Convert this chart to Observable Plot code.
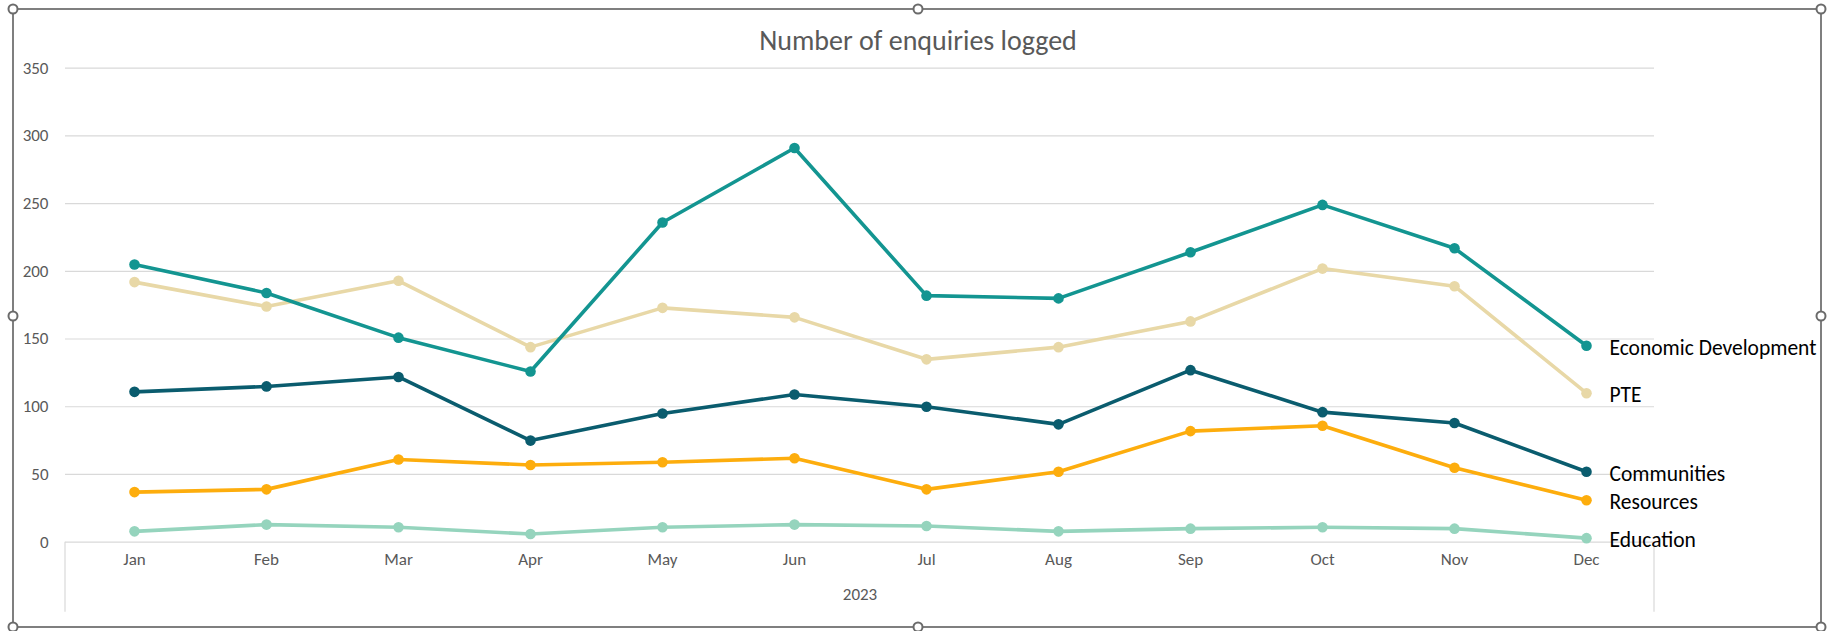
<!DOCTYPE html>
<html>
<head>
<meta charset="utf-8">
<script src="https://cdn.jsdelivr.net/npm/d3@7"></script>
<script src="https://cdn.jsdelivr.net/npm/@observablehq/plot@0.6"></script>
<style>
  body { margin: 0; background: #fff; }
  #wrap { position: relative; width: 1827px; height: 631px; overflow: hidden; font-family: Calibri, Carlito, Lato, sans-serif; background: #fff; }
  #chart { position: absolute; left: 0; top: 0; }
  #frame { position: absolute; left: 12px; top: 8px; width: 1810px; height: 620px; border: 2px solid #7f7f7f; box-sizing: border-box; pointer-events: none; }
  .handle { position: absolute; width: 11px; height: 11px; border: 2px solid #6b6b6b; border-radius: 50%; background: #fff; box-sizing: border-box; transform: translate(-50%, -50%); }
  #title { position: absolute; left: 0; width: 1827px; top: 23px; text-align: center; padding-left: 9px; box-sizing: border-box; font-size: 28px; color: #595959; font-family: Calibri, Carlito, Lato, sans-serif; }
</style>
</head>
<body>
<div id="wrap">
  <div id="chart"></div>
  <div id="frame"></div>
  <div id="title">Number of enquiries logged</div>
</div>
<script>
// ---- data ----
const months = ["Jan", "Feb", "Mar", "Apr", "May", "Jun", "Jul", "Aug", "Sep", "Oct", "Nov", "Dec"];
const economicDevelopment = [205, 184, 151, 126, 236, 291, 182, 180, 214, 249, 217, 145];
const pte = [192, 174, 193, 144, 173, 166, 135, 144, 163, 202, 189, 110];
const communities = [111, 115, 122, 75, 95, 109, 100, 87, 127, 96, 88, 52];
const resources = [37, 39, 61, 57, 59, 62, 39, 52, 82, 86, 55, 31];
const education = [8, 13, 11, 6, 11, 13, 12, 8, 10, 11, 10, 3];
const seriesNames = ["PTE", "Communities", "Resources", "Education", "Economic Development"];
const seriesValues = [pte, communities, resources, education, economicDevelopment];
const seriesColors = ["#e8d8a7", "#0a5c6e", "#fdad0d", "#95d4bd", "#139591"];
const yTicks = [0, 50, 100, 150, 200, 250, 300, 350];
const yearLabel = "2023";

// long table built from the arrays
const rows = [];
seriesNames.forEach((name, i) => {
  seriesValues[i].forEach((v, j) => rows.push({series: name, month: months[j], value: v}));
});
const lastRows = rows.filter(d => d.month === months[months.length - 1]);

const W = 1827, H = 631;
const mL = 65, mR = 173, mT = 67.6, mB = 89.3;

// category group separators (multi-level axis) below the plot
const separators = (index, scales, values, dims) => {
  const g = d3.create("svg:g");
  const y0 = dims.height - dims.marginBottom;
  [dims.marginLeft, dims.width - dims.marginRight].forEach(x => {
    g.append("line").attr("x1", x).attr("x2", x).attr("y1", y0).attr("y2", y0 + 70)
      .attr("stroke", "#d9d9d9").attr("stroke-width", 1.2);
  });
  return g.node();
};

const chart = Plot.plot({
  width: W,
  height: H,
  marginLeft: mL,
  marginRight: mR,
  marginTop: mT,
  marginBottom: mB,
  style: {fontFamily: "Calibri, Carlito, Lato, sans-serif", background: "transparent"},
  x: {type: "point", domain: months, padding: 0.5, axis: null},
  y: {domain: [0, 350], axis: null},
  color: {domain: seriesNames, range: seriesColors},
  marks: [
    Plot.ruleY(yTicks, {stroke: "#d9d9d9", strokeWidth: 1.2}),
    separators,
    Plot.axisY(yTicks, {tickSize: 0, tickPadding: 17, fontSize: 17, fill: "#595959", label: null}),
    Plot.axisX(months, {tickSize: 0, tickPadding: 11, fontSize: 17, fill: "#595959", label: null}),
    Plot.text([yearLabel], {frameAnchor: "bottom", dy: 58, fontSize: 17, fill: "#595959"}),
    Plot.line(rows, {x: "month", y: "value", z: "series", stroke: "series", strokeWidth: 3.6, strokeLinejoin: "round", strokeLinecap: "round"}),
    Plot.dot(rows, {x: "month", y: "value", fill: "series", r: 5.3}),
    Plot.text(lastRows, {x: "month", y: "value", text: "series", textAnchor: "start", dx: 23, dy: 2, fontSize: 21.5, fill: "#000"})
  ]
});
document.getElementById("chart").appendChild(chart);

// selection handles on the chart frame
const handles = [[13, 9], [918, 9], [1821, 9], [13, 316], [1821, 316], [13, 627], [918, 627], [1821, 627]];
const wrap = document.getElementById("wrap");
handles.forEach(([x, y]) => {
  const h = document.createElement("div");
  h.className = "handle";
  h.style.left = x + "px";
  h.style.top = y + "px";
  wrap.appendChild(h);
});
</script>
</body>
</html>
